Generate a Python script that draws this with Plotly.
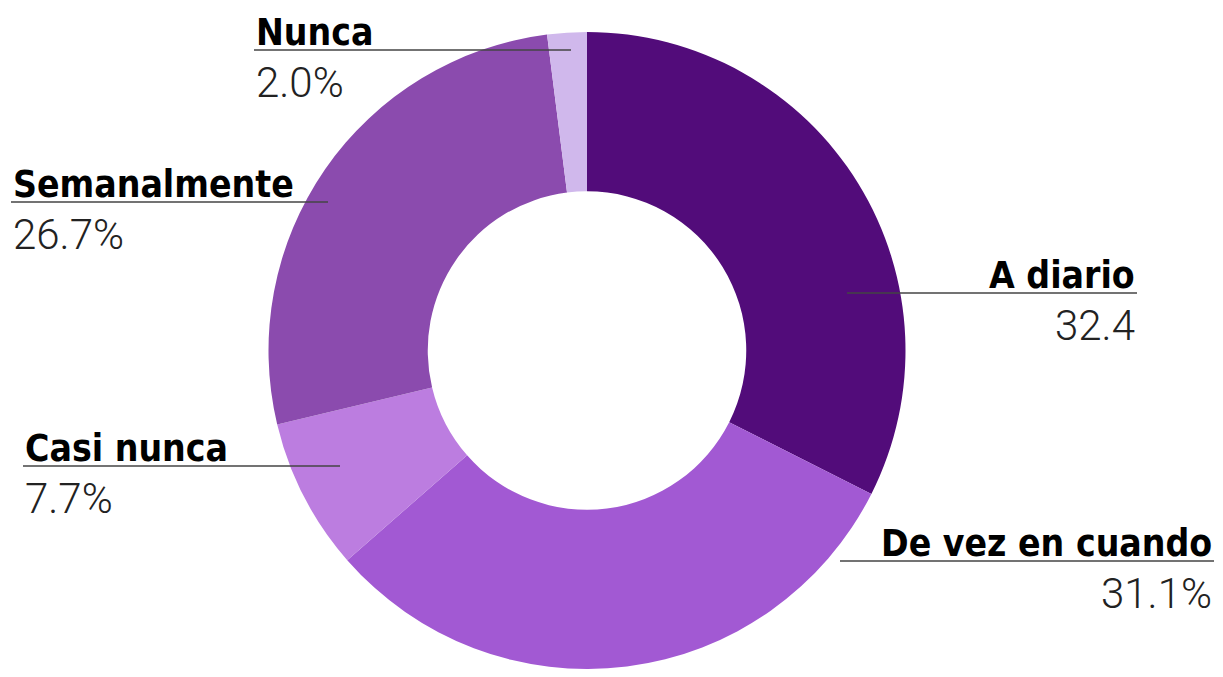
import plotly.graph_objects as go

# the page body has an 8px margin all round, so the figure starts at (8, 8)
# on screen; keep it small enough that the page never scrolls
OFF = 8
W, H = 1223 - 2 * OFF, 677 - 2 * OFF

labels = ["A diario", "De vez en cuando", "Casi nunca", "Semanalmente", "Nunca"]
values = [32.4, 31.1, 7.7, 26.7, 2.0]
value_text = ["32.4", "31.1%", "7.7%", "26.7%", "2.0%"]
colors = ["#520c7a", "#a259d3", "#bc7de0", "#8b4bae", "#d0b8ec"]

# callout layout in screen pixels: (line x0, line x1, line y, text side)
callouts = {
    "A diario": (847, 1137, 293, "right"),
    "De vez en cuando": (840, 1214, 561, "right"),
    "Casi nunca": (23, 340, 466, "left"),
    "Semanalmente": (11, 328, 202, "left"),
    "Nunca": (254, 571, 50, "left"),
}

LABEL_FONT = "DejaVu Sans Condensed, Roboto Condensed, Liberation Sans Narrow, Roboto, sans-serif"
NUM_FONT = "Roboto, sans-serif"

def px(x):
    return (x - OFF) / W

def py(y):
    return 1 - (y - OFF) / H

# donut: top edge at y=32, reaching the bottom of the figure, centred on x=587
top = 32
diam = (OFF + H) - top
fig = go.Figure(go.Pie(
    labels=labels,
    values=values,
    marker=dict(colors=colors, line=dict(width=0)),
    hole=0.5,
    sort=False,
    direction="clockwise",
    rotation=0,
    textinfo="none",
    hoverinfo="label+value",
    domain=dict(x=[px(587 - diam / 2), px(587 + diam / 2)], y=[0, py(top)]),
))

shapes = []
annotations = []
for lab, txt in zip(labels, value_text):
    x0, x1, y, side = callouts[lab]
    shapes.append(dict(type="line", xref="paper", yref="paper",
                       x0=px(x0), x1=px(x1), y0=py(y), y1=py(y),
                       line=dict(color="#444444", width=1.5)))
    xa = px(x0) if side == "left" else px(x1)
    annotations.append(dict(xref="paper", yref="paper", x=xa, y=py(y + 6),
                            xanchor=side, yanchor="bottom", showarrow=False,
                            text="<b>" + lab + "</b>",
                            font=dict(family=LABEL_FONT, size=37, color="#000000")))
    annotations.append(dict(xref="paper", yref="paper", x=xa, y=py(y + 6),
                            xanchor=side, yanchor="top", showarrow=False,
                            text=txt,
                            font=dict(family=NUM_FONT, size=42, weight=300, color="#222222")))

fig.update_layout(
    width=W, height=H,
    margin=dict(l=0, r=0, t=0, b=0),
    showlegend=False,
    paper_bgcolor="white",
    plot_bgcolor="white",
    shapes=shapes,
    annotations=annotations,
)

fig.write_html("out.html")
